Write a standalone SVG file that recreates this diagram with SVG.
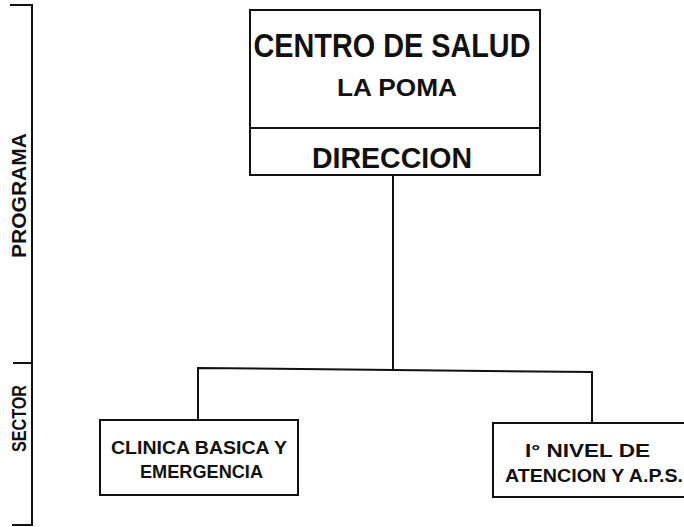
<svg xmlns="http://www.w3.org/2000/svg" width="684" height="527" viewBox="0 0 684 527">
<style>
.ln{fill:none;stroke:#111;stroke-width:2}
.box{fill:#fff;stroke:#111;stroke-width:2}
text{font-family:"Liberation Sans",Arial,sans-serif;font-weight:bold;fill:#111}
.mid{text-anchor:middle}
</style>
<rect width="684" height="527" fill="#fff"/>
<g id="scale">
<path class="ln" d="M10 5 H32 V525 H12 M13 363 H32"/>
<text class="mid" transform="translate(25.5,195.5) rotate(-90)" font-size="21" textLength="125" lengthAdjust="spacingAndGlyphs">PROGRAMA</text>
<text class="mid" transform="translate(25.5,418.5) rotate(-90)" font-size="20" textLength="67" lengthAdjust="spacingAndGlyphs">SECTOR</text>
</g>
<g id="connectors">
<path class="ln" d="M393 175 V369 M198 420 V368 L592 372 V423"/>
</g>
<g id="centro">
<rect class="box" x="250" y="10" width="290" height="165"/>
<line class="ln" x1="250" y1="128" x2="540" y2="128"/>
<text class="mid" x="392" y="57" font-size="33" textLength="277" lengthAdjust="spacingAndGlyphs">CENTRO DE SALUD</text>
<text class="mid" x="397" y="96" font-size="23" textLength="120" lengthAdjust="spacingAndGlyphs">LA POMA</text>
<text class="mid" x="392" y="168" font-size="29" textLength="160" lengthAdjust="spacingAndGlyphs">DIRECCION</text>
</g>
<g id="clinica">
<rect class="box" x="100" y="420" width="198" height="75"/>
<text class="mid" x="199" y="454" font-size="19" textLength="176" lengthAdjust="spacingAndGlyphs">CLINICA BASICA Y</text>
<text class="mid" x="201.5" y="478" font-size="19" textLength="123" lengthAdjust="spacingAndGlyphs">EMERGENCIA</text>
</g>
<g id="nivel">
<rect class="box" x="493" y="423" width="200" height="74"/>
<text class="mid" x="587.5" y="457" font-size="19" textLength="125" lengthAdjust="spacingAndGlyphs">I° NIVEL DE</text>
<text class="mid" x="594" y="482" font-size="19" textLength="178" lengthAdjust="spacingAndGlyphs">ATENCION Y A.P.S.</text>
</g>
</svg>
